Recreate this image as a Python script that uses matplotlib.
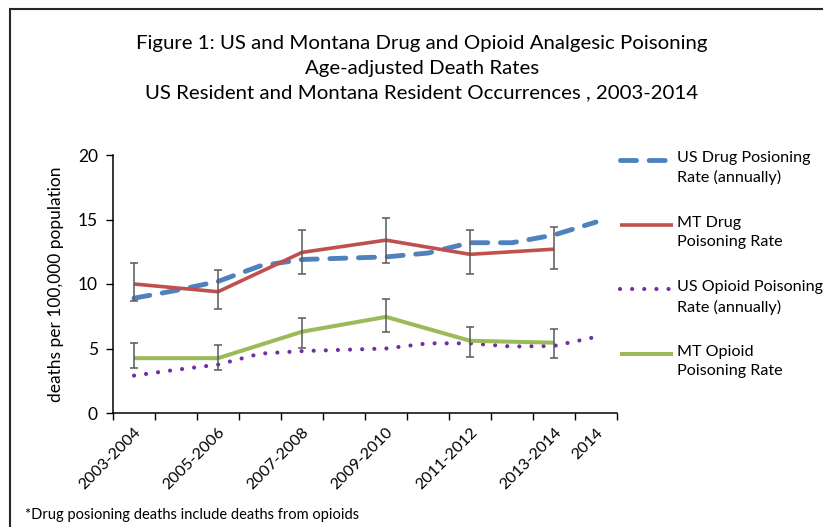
import numpy as np
import matplotlib
matplotlib.use("Agg")
import matplotlib.pyplot as plt
from matplotlib.lines import Line2D
from matplotlib.patches import Rectangle

plt.rcParams['font.family'] = ['Lato', 'DejaVu Sans']

# annual categories, labelled every other year like the source workbook
categories = ["2003-2004", "", "2005-2006", "", "2007-2008", "", "2009-2010", "",
              "2011-2012", "", "2013-2014", "2014"]

# US annual rates (one value per year 2003..2014)
us_drug = [8.9, 9.5, 10.2, 11.4, 11.9, 12.0, 12.1, 12.4, 13.2, 13.2, 13.8, 14.8]
us_opioid = [2.9, 3.35, 3.75, 4.6, 4.8, 4.9, 5.0, 5.4, 5.4, 5.15, 5.2, 5.9]

# Montana two-year rates, placed on the first year of each pair
mt_idx = [0, 2, 4, 6, 8, 10]
mt_drug = [10.0, 9.4, 12.45, 13.4, 12.3, 12.7]
mt_drug_lo = [8.65, 8.1, 10.8, 11.6, 10.8, 11.15]
mt_drug_hi = [11.6, 11.05, 14.2, 15.1, 14.2, 14.4]
mt_opioid = [4.25, 4.25, 6.3, 7.45, 5.6, 5.45]
mt_opioid_lo = [3.45, 3.3, 5.05, 6.25, 4.35, 4.25]
mt_opioid_hi = [5.45, 5.3, 7.35, 8.8, 6.7, 6.55]

blue, red, purple, green = "#4F81BD", "#C0504D", "#7030A0", "#9BBB59"
err_col = "#595959"

us_drug_style = dict(color=blue, lw=3.5, dashes=(3.3, 2.6), dash_capstyle='round')
mt_drug_style = dict(color=red, lw=2.6, solid_capstyle='butt')
us_opioid_style = dict(color=purple, lw=3.0, dashes=(0.01, 2.9), dash_capstyle='round')
mt_opioid_style = dict(color=green, lw=2.9, solid_capstyle='butt')

W, H = 823, 527
fig = plt.figure(figsize=(W / 100, H / 100), dpi=100)
ax = fig.add_axes([113 / W, 1 - 413 / H, (617 - 113) / W, (413 - 155) / H])

x = np.arange(len(categories))

ax.plot(x, us_drug, zorder=3, **us_drug_style)
ax.plot(mt_idx, mt_drug, zorder=4, **mt_drug_style)
ax.plot(x, us_opioid, zorder=3, **us_opioid_style)
ax.plot(mt_idx, mt_opioid, zorder=4, **mt_opioid_style)

for vals, lo, hi in [(mt_drug, mt_drug_lo, mt_drug_hi), (mt_opioid, mt_opioid_lo, mt_opioid_hi)]:
    v = np.array(vals)
    yerr = [v - np.array(lo), np.array(hi) - v]
    ax.errorbar(mt_idx, v, yerr=yerr, fmt='none', ecolor=err_col, elinewidth=1.1,
                capsize=3, capthick=1.1, zorder=5)

ax.set_xlim(-0.5, len(categories) - 0.5)
ax.set_ylim(0, 20)
ax.set_yticks([0, 5, 10, 15, 20])
ax.set_xticks(np.arange(-0.5, len(categories)), minor=False)
ax.set_xticklabels([])
ax.set_xticks(x, minor=True)
ax.set_xticklabels(categories, minor=True, rotation=45, ha='right',
                   rotation_mode='anchor', fontsize=11.5)
ax.tick_params(axis='x', which='minor', length=0, pad=9)
ax.tick_params(axis='x', which='major', length=5, width=1, direction='out')
ax.tick_params(axis='y', length=5, width=1, direction='out', labelsize=12.5, pad=6)
for s in ['top', 'right']:
    ax.spines[s].set_visible(False)
for s in ['left', 'bottom']:
    ax.spines[s].set_linewidth(1.1)
ax.set_ylabel("deaths per 100,000 population", fontsize=12.5, labelpad=10)

# title block
title_lines = ["Figure 1: US and Montana Drug and Opioid Analgesic Poisoning",
               "Age-adjusted Death Rates",
               "US Resident and Montana Resident Occurrences , 2003-2014"]
for i, t in enumerate(title_lines):
    fig.text(422 / W, 1 - (44 + 24.5 * i) / H, t, ha='center', va='center', fontsize=14.7)

# legend entries drawn by hand so the handle sits on the first text line
legend_items = [
    ("US Drug Posioning\nRate (annually)", us_drug_style),
    ("MT Drug\nPoisoning Rate", mt_drug_style),
    ("US Opioid Poisoning\nRate (annually)", us_opioid_style),
    ("MT Opioid\nPoisoning Rate", mt_opioid_style),
]
for i, (label, style) in enumerate(legend_items):
    yy = 1 - (160 + 64.7 * i) / H
    fig.add_artist(Line2D([620 / W, 673 / W], [yy, yy], transform=fig.transFigure, **style))
    fig.text(677 / W, yy + 9 / H, label, ha='left', va='top', fontsize=11.6, linespacing=1.45)

fig.text(25 / W, 1 - 515 / H, "*Drug posioning deaths include deaths from opioids",
         ha='left', va='center', fontsize=10.5)

# chart-area frame
fig.add_artist(Rectangle((10 / W, -0.1), 1.2, 1 - 9 / H + 0.1, transform=fig.transFigure,
                         fill=False, edgecolor='#262626', lw=1.5))

fig.savefig("out.png", dpi=100)
